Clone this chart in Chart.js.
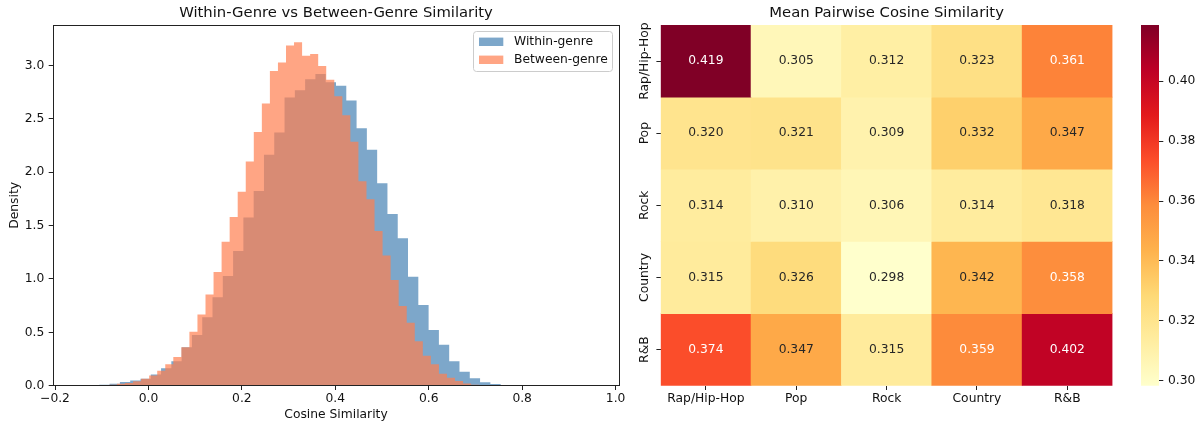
<!DOCTYPE html>
<html>
<head>
<meta charset="utf-8">
<script src="https://cdn.jsdelivr.net/npm/chart.js@4.4.1/dist/chart.umd.min.js"></script>
<style>
  body { margin: 0; background: #fff; }
  #wrap { position: relative; width: 1203px; height: 426px; overflow: hidden; }
  canvas { position: absolute; top: 0; }
</style>
</head>
<body>
<div id="wrap">
  <canvas id="hist" width="640" height="426" style="left:0"></canvas>
  <canvas id="heat" width="503" height="426" style="left:625px"></canvas>
  <canvas id="cbar" width="75" height="426" style="left:1128px"></canvas>
</div>
<script>
// --- histogram data (50 bins each, density) ---
const withinRange = [-0.1492, 0.9522];
const withinDensity = [
  0.001, 0.003, 0.008, 0.019, 0.034, 0.048, 0.066, 0.105, 0.163, 0.228,
  0.36, 0.475, 0.641, 0.829, 1.028, 1.263, 1.575, 1.825, 2.163, 2.372,
  2.70, 2.769, 2.872, 2.922, 2.844, 2.81, 2.672, 2.413, 2.21, 1.897,
  1.61, 1.382, 1.022, 0.757, 0.522, 0.383, 0.23, 0.13, 0.069, 0.033,
  0.015, 0.006, 0.002, 0.001, 0, 0, 0, 0, 0, 0
];
const betweenRange = [-0.1363, 0.7252];
const betweenDensity = [
  0.001, 0.002, 0.005, 0.01, 0.018, 0.025, 0.042, 0.065, 0.095, 0.14,
  0.2, 0.27, 0.36, 0.505, 0.668, 0.855, 1.066, 1.35, 1.582, 1.817,
  2.10, 2.378, 2.645, 2.95, 3.028, 3.188, 3.218, 3.092, 3.108, 2.996,
  2.866, 2.713, 2.535, 2.285, 1.916, 1.747, 1.45, 1.22, 0.991, 0.747,
  0.591, 0.416, 0.28, 0.202, 0.112, 0.075, 0.044, 0.02, 0.008, 0.003
];
const histXTicks = [-0.2, 0, 0.2, 0.4, 0.6, 0.8, 1.0];
const histYTicks = [0, 0.5, 1, 1.5, 2, 2.5, 3];

// --- heatmap data ---
const genres = ['Rap/Hip-Hop', 'Pop', 'Rock', 'Country', 'R&B'];
const rowRapHipHop = [0.419, 0.305, 0.312, 0.323, 0.361];
const rowPop = [0.320, 0.321, 0.309, 0.332, 0.347];
const rowRock = [0.314, 0.310, 0.306, 0.314, 0.318];
const rowCountry = [0.315, 0.326, 0.298, 0.342, 0.358];
const rowRnB = [0.374, 0.347, 0.315, 0.359, 0.402];
const simMatrix = [rowRapHipHop, rowPop, rowRock, rowCountry, rowRnB];
const colorMin = 0.2984, colorMax = 0.4187;
const colorbarTicks = [0.30, 0.32, 0.34, 0.36, 0.38, 0.40];

const ylorrd = ['#ffffcc', '#ffeda0', '#fed976', '#feb24c', '#fd8d3c', '#fc4e2a', '#e31a1c', '#bd0026', '#800026'];

const FONT = '"DejaVu Sans", sans-serif';
Chart.defaults.font.family = FONT;
Chart.defaults.font.size = 12.3;
Chart.defaults.color = '#111';
Chart.defaults.animation = false;
Chart.defaults.events = [];
Chart.defaults.plugins.tooltip.enabled = false;
Chart.defaults.plugins.legend.display = false;

function hexRgb(h) {
  return [1, 3, 5].map(i => parseInt(h.slice(i, i + 2), 16));
}
function cmap(t) {
  t = Math.max(0, Math.min(1, t));
  const pos = t * (ylorrd.length - 1);
  const i = Math.min(Math.floor(pos), ylorrd.length - 2);
  const f = pos - i;
  const a = hexRgb(ylorrd[i]), b = hexRgb(ylorrd[i + 1]);
  return a.map((c, k) => Math.round(c + (b[k] - c) * f));
}
function cellColor(v) {
  const c = cmap((v - colorMin) / (colorMax - colorMin));
  return `rgb(${c[0]},${c[1]},${c[2]})`;
}
function textColorFor(v) {
  const lin = cmap((v - colorMin) / (colorMax - colorMin)).map(c => {
    c /= 255;
    return c <= 0.03928 ? c / 12.92 : Math.pow((c + 0.055) / 1.055, 2.4);
  });
  const lum = 0.2126 * lin[0] + 0.7152 * lin[1] + 0.0722 * lin[2];
  return lum > 0.408 ? '#262626' : '#ffffff';
}

// bin left edges -> stepped points
function histPoints(range, dens) {
  const w = (range[1] - range[0]) / dens.length;
  const pts = dens.map((d, i) => ({x: range[0] + i * w, y: d}));
  pts.push({x: range[1], y: 0});
  return pts;
}

const frame = {
  id: 'frame',
  afterDatasetsDraw(chart) {
    const {ctx, chartArea: a} = chart;
    const l = Math.floor(a.left) + 0.5, r = Math.floor(a.right) + 0.5;
    const t = Math.floor(a.top) + 0.5, b = Math.floor(a.bottom) + 0.5;
    ctx.save();
    ctx.strokeStyle = '#222';
    ctx.lineWidth = 1;
    ctx.strokeRect(l, t, r - l, b - t);
    ctx.restore();
  }
};

const histLegend = {
  id: 'histLegend',
  afterDraw(chart) {
    const {ctx, chartArea: a} = chart;
    const w = 139, h = 40;
    const x = Math.round(a.right - 6.7 - w), y = Math.round(a.top + 6);
    ctx.save();
    ctx.beginPath();
    ctx.roundRect(x + 0.5, y + 0.5, w, h, 3);
    ctx.fillStyle = 'rgba(255,255,255,0.8)';
    ctx.fill();
    ctx.strokeStyle = '#cccccc';
    ctx.lineWidth = 1;
    ctx.stroke();
    ctx.font = '12.3px ' + FONT;
    ctx.textBaseline = 'middle';
    ctx.textAlign = 'left';
    chart.data.datasets.forEach((ds, i) => {
      const ry = y + 10.8 + i * 18;
      ctx.fillStyle = ds.backgroundColor;
      ctx.fillRect(x + 6, ry - 4.2, 24.3, 8.4);
      ctx.fillStyle = '#111';
      ctx.fillText(ds.label, x + 41, ry);
    });
    ctx.restore();
  }
};

new Chart(document.getElementById('hist'), {
  type: 'line',
  data: {
    datasets: [{
      label: 'Within-genre',
      data: histPoints(withinRange, withinDensity),
      backgroundColor: 'rgba(70,130,180,0.7)',
      borderColor: 'rgba(0,0,0,0)',
      borderWidth: 0,
      pointRadius: 0,
      stepped: 'before',
      fill: 'origin',
      order: 1
    }, {
      label: 'Between-genre',
      data: histPoints(betweenRange, betweenDensity),
      backgroundColor: 'rgba(255,127,80,0.7)',
      borderColor: 'rgba(0,0,0,0)',
      borderWidth: 0,
      pointRadius: 0,
      stepped: 'before',
      fill: 'origin',
      order: 0
    }]
  },
  options: {
    responsive: false,
    layout: {padding: {left: 0, right: 21, top: 0, bottom: 0}},
    plugins: {
      title: {
        display: true,
        fullSize: false,
        text: 'Within-Genre vs Between-Genre Similarity',
        color: '#111',
        font: {size: 14.8, weight: 'normal'},
        padding: {top: 4, bottom: 3.24}
      }
    },
    scales: {
      x: {
        type: 'linear',
        min: -0.2043, max: 1.0073,
        afterBuildTicks: ax => { ax.ticks = histXTicks.map(v => ({value: v})); },
        afterFit: s => { s.height = 40.3; },
        ticks: {
          padding: 1.5,
          maxRotation: 0,
          callback: v => v.toFixed(1).replace('-', '\u2212')
        },
        grid: {drawOnChartArea: false, tickLength: 4.3, color: '#222'},
        border: {display: false},
        title: {display: true, text: 'Cosine Similarity', color: '#111', padding: {top: 0, bottom: 3.4}}
      },
      y: {
        min: 0, max: 3.38,
        afterBuildTicks: ax => { ax.ticks = histYTicks.map(v => ({value: v})); },
        afterFit: s => { s.width = 53; },
        ticks: {padding: 4.4, callback: v => v.toFixed(1)},
        grid: {drawOnChartArea: false, tickLength: 4.3, color: '#222'},
        border: {display: false},
        title: {display: true, text: 'Density', color: '#111', padding: {top: 7.6, bottom: 0}}
      }
    }
  },
  plugins: [frame, histLegend]
});

// width of the widest row label, used to centre the rotated y labels on their ticks
const mctx = document.createElement('canvas').getContext('2d');
mctx.font = '12.3px ' + FONT;
const widestGenre = Math.max(...genres.map(g => mctx.measureText(g).width));

const cellLabels = {
  id: 'cellLabels',
  afterDatasetsDraw(chart) {
    const {ctx, scales: {x, y}} = chart;
    ctx.save();
    ctx.font = '12.3px ' + FONT;
    ctx.textAlign = 'center';
    ctx.textBaseline = 'middle';
    simMatrix.forEach((row, r) => row.forEach((v, c) => {
      ctx.fillStyle = textColorFor(v);
      ctx.fillText(v.toFixed(3), x.getPixelForValue(c), y.getPixelForValue(r + 0.5));
    }));
    ctx.restore();
  }
};

new Chart(document.getElementById('heat'), {
  type: 'bar',
  data: {
    labels: genres,
    datasets: simMatrix.map((row, r) => ({
      label: genres[r],
      data: row.map(() => [r, r + 1]),
      backgroundColor: row.map(v => cellColor(v)),
      grouped: false,
      barPercentage: 1,
      categoryPercentage: 1,
      borderWidth: 0
    }))
  },
  options: {
    responsive: false,
    layout: {padding: {left: 0, right: 15.5, top: 0, bottom: 0}},
    plugins: {
      title: {
        display: true,
        fullSize: false,
        text: 'Mean Pairwise Cosine Similarity',
        color: '#111',
        font: {size: 14.8, weight: 'normal'},
        padding: {top: 4, bottom: 3.24}
      }
    },
    scales: {
      x: {
        afterFit: s => { s.height = 40.3; },
        ticks: {padding: 1.5, maxRotation: 0},
        grid: {offset: false, drawOnChartArea: false, tickLength: 4.3, color: '#222'},
        border: {display: false}
      },
      y: {
        min: 0, max: 5, reverse: true,
        afterBuildTicks: ax => { ax.ticks = genres.map((g, i) => ({value: i + 0.5})); },
        afterFit: s => { s.width = 35.7; },
        ticks: {
          minRotation: 90, maxRotation: 90,
          crossAlign: 'center',
          padding: 11.4 - widestGenre / 2,
          callback: (v, i) => genres[i]
        },
        grid: {drawOnChartArea: false, tickLength: 4.3, color: '#222'},
        border: {display: false}
      }
    }
  },
  plugins: [cellLabels]
});

new Chart(document.getElementById('cbar'), {
  type: 'bar',
  data: {
    labels: [''],
    datasets: [{
      data: [[colorMin, colorMax]],
      backgroundColor: c => {
        const a = c.chart.chartArea;
        if (!a) return 'rgba(0,0,0,0)';
        const g = c.chart.ctx.createLinearGradient(0, a.bottom, 0, a.top);
        ylorrd.forEach((col, i) => g.addColorStop(i / (ylorrd.length - 1), col));
        return g;
      },
      barPercentage: 1,
      categoryPercentage: 1,
      borderWidth: 0
    }]
  },
  options: {
    responsive: false,
    layout: {padding: {left: 13, right: 0, top: 25, bottom: 40.3}},
    scales: {
      x: {display: false},
      y: {
        position: 'right',
        min: colorMin, max: colorMax,
        afterBuildTicks: ax => { ax.ticks = colorbarTicks.map(v => ({value: v})); },
        afterFit: s => { s.width = 44; },
        ticks: {padding: 4.7, callback: v => v.toFixed(2)},
        grid: {drawOnChartArea: false, tickLength: 4.3, color: '#222'},
        border: {display: false}
      }
    }
  }
});
</script>
</body>
</html>
